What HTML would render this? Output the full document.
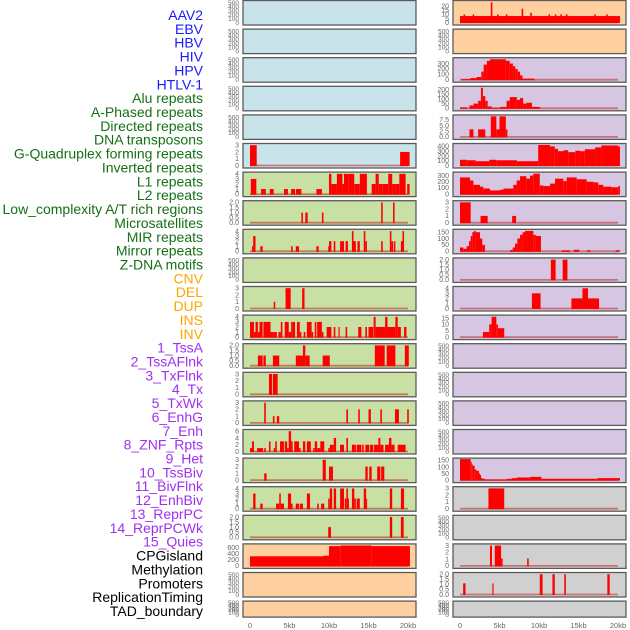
<!DOCTYPE html>
<html><head><meta charset="utf-8">
<style>
html,body{margin:0;padding:0;background:#fff;}
svg{display:block;font-family:"Liberation Sans",sans-serif;}
</style></head>
<body>
<svg id="chart" width="630" height="630" viewBox="0 0 630 630" xmlns="http://www.w3.org/2000/svg"></svg>
<script>
// ---- labels ----
const trackLabels = ["AAV2","EBV","HBV","HIV","HPV","HTLV-1","Alu repeats","A-Phased repeats","Directed repeats","DNA transposons","G-Quadruplex forming repeats","Inverted repeats","L1 repeats","L2 repeats","Low_complexity A/T rich regions","Microsatellites","MIR repeats","Mirror repeats","Z-DNA motifs","CNV","DEL","DUP","INS","INV","1_TssA","2_TssAFlnk","3_TxFlnk","4_Tx","5_TxWk","6_EnhG","7_Enh","8_ZNF_Rpts","9_Het","10_TssBiv","11_BivFlnk","12_EnhBiv","13_ReprPC","14_ReprPCWk","15_Quies","CPGisland","Methylation","Promoters","ReplicationTiming","TAD_boundary"];
const labelGroups = [6,13,5,15,5];
const groupColors = ["#1a1aff","#157015","#ffa500","#a030f0","#000000"];
const xTickKb = [0,5,10,15,20];
const xTickText = ["0","5kb","10kb","15kb","20kb"];

// ---- left column data: [startKb, endKb, value] ----
const L5 = [[0,0.85,3],[19.0,20.2,2]];
const L6 = [[0.1,0.8,3],[1.4,2.0,1],[2.5,3.0,1],[4.3,4.8,1],[5.2,5.7,1],[5.8,6.5,1],[8.4,9.1,1],[10.0,10.3,4],[10.3,11.0,2],[11.0,11.7,4],[11.7,11.9,2],[11.9,12.5,4],[12.5,13.2,4],[13.2,13.9,2],[13.9,14.8,4],[15.4,15.9,2],[15.9,16.3,4],[16.3,16.8,2],[16.8,17.5,2],[17.5,18.0,4],[18.0,18.4,2],[18.4,18.9,2],[18.9,19.7,4],[19.9,20.2,2]];
const L7 = [[6.5,6.7,1],[7.0,7.3,1],[9.1,9.3,1],[16.6,16.8,2],[18.1,18.3,2]];
const L8 = [[0.25,0.4,1],[0.4,0.7,3],[1.3,1.6,1],[5.2,5.4,1],[5.8,6.2,1],[8.4,8.7,1],[9.9,10.0,1],[10.0,10.3,2],[10.6,10.8,2],[11.4,11.9,2],[12.1,12.4,2],[12.9,13.1,4],[13.1,13.4,2],[13.6,13.9,2],[14.4,14.6,4],[14.6,14.8,2],[16.6,16.8,2],[17.7,17.9,4],[17.9,18.1,2],[18.2,18.4,2],[19.1,19.3,2],[19.3,19.5,4]];
const L10 = [[3.0,3.2,1],[4.5,5.15,3],[6.6,6.9,3]];
const L11 = [[0,0.5,3],[0.5,0.7,1],[0.7,1.0,3],[1.0,1.2,1],[1.2,1.6,3],[1.7,2.6,3],[2.6,3.0,1],[3.0,3.4,1],[3.6,3.9,1],[3.9,4.1,3],[4.4,4.9,3],[4.9,5.2,1],[5.2,5.4,3],[5.4,5.7,3],[5.95,6.3,3],[6.3,6.5,1],[6.8,7.0,1],[7.2,7.8,3],[7.8,8.0,1],[8.2,8.4,3],[8.5,9.1,3],[9.1,9.3,1],[9.7,10.3,2],[10.6,10.8,2],[11.2,11.35,2],[12.1,12.3,2],[13.7,14.1,2],[14.6,14.8,2],[15.0,15.6,2],[15.65,15.9,4],[15.9,17.1,2],[17.1,17.4,4],[17.4,18.4,2],[18.4,18.7,4],[18.7,19.1,2],[19.5,19.8,2]];
const L12 = [[1.0,1.6,1],[1.7,2.0,1],[2.9,3.7,1],[5.8,6.2,1],[6.2,6.7,1],[6.7,7.0,2],[7.0,7.55,1],[9.2,10.1,1],[15.8,17.05,2],[17.3,18.4,2],[19.6,20.1,2]];
const L13 = [[2.4,2.8,3],[2.9,3.5,3]];
const L14 = [[1.8,2.0,3],[2.9,3.1,1],[3.4,3.7,1],[12.2,12.4,2],[13.7,13.9,2],[15.0,15.3,2],[16.5,16.7,2],[18.35,18.85,2],[19.9,20.1,2]];
const L15 = [[0,0.25,1],[0.25,0.5,3],[0.9,1.65,1],[1.8,2.0,1],[2.4,2.6,3],[3.0,3.2,1],[3.2,3.4,3],[3.8,4.3,3],[4.4,4.7,3],[4.7,4.9,1],[4.9,5.2,6],[5.2,5.4,3],[5.6,6.2,3],[6.2,6.4,1],[6.7,7.0,3],[7.2,7.7,3],[8.0,8.2,1],[8.2,8.5,3],[8.5,8.9,1],[8.9,9.4,3],[9.9,10.1,1],[10.1,10.6,2],[10.6,10.9,4],[11.4,11.9,2],[12.2,12.4,4],[12.9,13.4,2],[13.5,14.1,2],[14.2,14.4,2],[14.6,15.1,2],[15.2,15.6,2],[15.7,16.25,2],[16.25,16.5,4],[16.5,16.9,2],[17.1,17.6,2],[17.6,17.9,4],[17.9,18.3,2],[18.7,19.7,2]];
const L16 = [[1.8,2.1,1],[9.2,9.6,3],[10.0,10.5,2],[14.6,14.9,2],[15.1,15.4,2],[16.1,16.5,2],[16.6,17.0,2]];
const L17 = [[0.4,0.7,3],[1.3,1.6,1],[3.3,3.7,1],[3.7,3.9,3],[3.9,4.3,1],[4.8,5.2,3],[5.2,5.4,1],[5.8,6.2,1],[6.3,6.7,1],[7.2,7.6,3],[8.5,8.7,1],[9.0,9.4,1],[9.9,10.1,2],[10.1,10.4,4],[10.6,10.9,4],[11.4,11.9,4],[12.0,12.2,2],[12.2,12.4,4],[12.4,12.5,2],[12.9,13.2,4],[13.2,13.4,2],[13.5,13.9,2],[14.4,14.7,4],[14.7,14.8,2],[17.7,18.0,4],[19.1,19.5,4]];
const L18 = [[9.9,10.25,1],[17.7,18.0,2],[19.1,19.45,2]];
const L19 = [[0,9.3,320],[9.3,10.0,340],[10.0,11.5,660],[11.5,15.4,680],[15.4,20.25,660]];

// ---- right column data ----
const R0 = [[0,20.25,8],[0.45,0.65,10],[1.6,1.8,10],[3.9,4.1,25],[4.7,4.9,10],[5.8,6.0,10],[7.8,8.0,17],[8.9,9.1,12],[11.2,11.4,10],[12.0,12.2,10],[12.7,12.9,10],[13.4,13.6,10],[17.0,17.2,10],[18.5,18.7,10]];
const R2 = [[0.2,1.3,10],[1.3,2.1,30],[2.1,2.7,50],[2.7,3.0,150],[3.0,3.4,280],[3.4,3.8,350],[3.8,5.8,380],[5.8,6.3,350],[6.3,6.7,300],[6.7,7.0,250],[7.0,7.3,200],[7.3,7.6,150],[7.6,7.9,80],[7.9,9.4,20]];
const R3 = [[0,0.9,10],[1.2,1.7,30],[1.7,2.3,50],[2.3,2.65,80],[2.65,2.9,220],[2.9,3.2,130],[3.2,3.5,80],[3.5,4.0,20],[4.0,5.1,5],[5.1,5.9,15],[5.9,6.3,80],[6.3,7.2,120],[7.2,7.6,90],[7.6,8.0,110],[8.0,8.4,50],[8.4,9.1,60],[9.1,10.1,15]];
const R4 = [[1.2,1.7,3.3],[2.3,3.2,3.3],[3.9,4.6,9],[4.6,5.0,3.3],[5.0,5.8,9],[5.8,6.0,3.3]];
const R5 = [[0,0.85,120],[0.85,2.0,110],[2.0,3.7,90],[3.7,4.6,120],[4.6,7.2,110],[7.2,9.9,90],[9.9,11.4,430],[11.4,12.0,400],[12.0,12.4,350],[12.4,13.1,300],[13.1,13.7,320],[13.7,14.6,280],[14.6,15.2,310],[15.2,15.8,300],[15.8,17.1,340],[17.1,17.9,380],[17.9,20.0,420],[20.0,20.25,400]];
const R6 = [[0,1.27,270],[1.27,1.69,220],[1.69,2.53,150],[2.53,2.95,120],[2.95,3.8,90],[3.8,5.06,60],[5.06,5.5,70],[5.5,6.75,90],[6.75,7.17,150],[7.17,7.6,220],[7.6,8.4,290],[8.4,8.86,250],[8.86,9.28,300],[9.28,10.1,330],[10.1,10.55,140],[10.55,11.4,130],[11.4,12.03,170],[12.03,13.08,250],[13.08,13.5,210],[13.5,14.77,270],[14.77,16.03,240],[16.03,16.9,200],[16.9,17.5,190],[17.5,18.14,150],[18.14,19.2,120],[19.2,20.04,110],[20.04,20.25,130]];
const R7 = [[0,1.35,3],[2.6,3.5,1],[6.6,7.1,1]];
const R8 = [[0,0.42,30],[0.42,0.84,20],[0.84,1.14,40],[1.14,1.35,80],[1.35,1.56,120],[1.56,1.77,150],[1.77,1.98,160],[1.98,2.53,150],[2.53,2.82,100],[2.82,3.16,50],[6.33,6.67,10],[6.67,6.96,30],[6.96,7.26,60],[7.26,7.6,100],[7.6,7.93,130],[7.93,8.23,150],[8.23,9.28,160],[9.28,9.6,130],[9.6,10.25,120],[12.87,13.9,8],[14.4,15.1,12],[16.1,16.5,8],[19.7,20.25,8]];
const R9 = [[11.5,12.1,2],[13.0,13.6,2]];
const R10 = [[9.1,10.2,3],[14.1,15.5,2],[15.5,16.2,4],[16.2,17.6,2]];
const R11 = [[2.9,3.7,4],[3.7,4.0,10],[4.0,4.6,16],[4.6,4.8,10],[4.8,5.6,7]];
const R16 = [[0,1.35,160],[1.35,1.48,140],[1.48,1.6,120],[1.6,1.86,110],[1.86,2.1,80],[2.1,2.4,70],[2.4,2.53,50],[2.53,2.66,40],[2.66,2.87,15],[2.87,3.16,10],[3.16,5.9,5],[5.9,6.54,10],[6.54,7.2,15],[7.2,8.9,20],[8.9,10.3,25],[10.3,17.4,10],[17.4,20.25,15]];
const R17 = [[3.6,5.6,3]];
const R19 = [[3.8,4.05,3],[4.4,5.2,3],[5.2,5.4,1.1],[8.5,8.7,1.1]];
const R20 = [[0.4,0.7,1.1],[4.1,4.25,1.1],[10.1,10.45,2],[11.7,12.0,2],[13.2,13.4,2],[18.65,18.95,2]];

// ---- axis tick sets ----
const ticksEmpty = [0,100,200,300,400,500];
const ticks3 = [0,1,2,3];
const ticks4 = [0,1,2,3,4];
const ticks2 = [0,0.5,1.0,1.5,2.0];
const ticks6 = [0,2,4,6];

// panel specs: [data, yMax, ticks, bg]
const BLUE="#c8e3ea", GREEN="#c8e0a4", ORANGE="#fed09f", PURPLE="#d6c6e2", GRAY="#d0d0d0";
const leftPanels = [
 [null,530,ticksEmpty,BLUE],[null,530,ticksEmpty,BLUE],[null,530,ticksEmpty,BLUE],[null,530,ticksEmpty,BLUE],[null,530,ticksEmpty,BLUE],
 [L5,3.1,ticks3,BLUE],
 [L6,4.15,ticks4,GREEN],[L7,2.07,ticks2,GREEN],[L8,4.15,ticks4,GREEN],[null,530,ticksEmpty,GREEN],[L10,3.1,ticks3,GREEN],
 [L11,4.15,ticks4,GREEN],[L12,2.07,ticks2,GREEN],[L13,3.1,ticks3,GREEN],[L14,3.1,ticks3,GREEN],[L15,6.2,ticks6,GREEN],
 [L16,3.1,ticks3,GREEN],[L17,4.15,ticks4,GREEN],[L18,2.07,ticks2,GREEN],
 [L19,700,[0,200,400,600],ORANGE],[null,530,ticksEmpty,ORANGE],[null,530,ticksEmpty,ORANGE]
];
const rightPanels = [
 [R0,26,[0,5,10,15,20],ORANGE],[null,530,ticksEmpty,ORANGE],
 [R2,390,[0,100,200,300],PURPLE],[R3,225,[0,50,100,150,200],PURPLE],[R4,9.2,[0,2.5,5.0,7.5],PURPLE],
 [R5,440,[0,100,200,300,400],PURPLE],[R6,340,[0,100,200,300],PURPLE],[R7,3.1,ticks3,PURPLE],
 [R8,165,[0,50,100,150],PURPLE],[R9,2.07,ticks2,PURPLE],[R10,4.15,ticks4,PURPLE],[R11,16.5,[0,5,10,15],PURPLE],
 [null,530,ticksEmpty,PURPLE],[null,530,ticksEmpty,PURPLE],[null,530,ticksEmpty,PURPLE],[null,530,ticksEmpty,PURPLE],
 [R16,160,[0,50,100,150],PURPLE],
 [R17,3.1,ticks3,GRAY],[null,530,ticksEmpty,GRAY],[R19,3.1,ticks3,GRAY],[R20,2.07,ticks2,GRAY],[null,530,ticksEmpty,GRAY]
];

const NS="http://www.w3.org/2000/svg";
const svg=document.getElementById("chart");
function mk(tag,attrs,parent){const e=document.createElementNS(NS,tag);for(const k in attrs)e.setAttribute(k,attrs[k]);(parent||svg).appendChild(e);return e;}

// labels
let li=0;
labelGroups.forEach((n,g)=>{for(let k=0;k<n;k++){
  const t=mk("text",{x:203,y:15+li*13.86+5,"text-anchor":"end","font-size":14,fill:groupColors[g]});
  t.textContent=trackLabels[li];
  
  
  li++;}});

function fmt(v,ticks){const dec=ticks.some(t=>t%1!==0);return dec?(Number.isInteger(v*2)&&ticks.includes(2.5)?v.toFixed(1):v.toFixed(1)):String(v);}

function drawPanel(spec,i,side){
  const [data,yMax,ticks,bg]=spec;
  const px=side==="left"?243:453, pw=173;
  const top=i*28.6+0.5, h=(i===21?16:24.5);
  const x0=px+7, kbScale=7.9;
  const yBase=top+h-2.5, yTop=top+1;
  const xs=kb=>x0+kb*kbScale;
  const ys=v=>yBase-(v/yMax)*(yBase-yTop);
  const g=mk("g",{});
  
  
  const r=mk("rect",{x:px,y:top,width:pw,height:h,fill:bg,stroke:"#5a5a5a","stroke-width":1.3},g);
  
  
  // y ticks
  ticks.forEach(t=>{
    const y=ys(t);
    const tx=mk("text",{x:px-4,y:y+2.3,"text-anchor":"end","font-size":data?7:6.5,fill:"#666"},g);
    tx.textContent=fmt(t,ticks);
    
    
  });
  if(data){
    const bl=mk("line",{x1:xs(0),x2:xs(20),y1:ys(0),y2:ys(0),stroke:"rgba(190,40,40,0.55)","stroke-width":1.8},g);
    
    
    data.forEach(d=>{
      const b=mk("rect",{x:xs(d[0]),y:ys(d[2]),width:Math.max(1,xs(d[1])-xs(d[0])),height:ys(0)-ys(d[2])+0.5,fill:"#ff0000"},g);
      
      
    });
  }
  if(i===21){
    xTickKb.forEach((k,j)=>{
      const tx=mk("text",{x:xs(k),y:628,"text-anchor":"middle","font-size":7.5,fill:"#666"});
      tx.textContent=xTickText[j];
      
      
    });
  }
}
leftPanels.forEach((s,i)=>drawPanel(s,i,"left"));
rightPanels.forEach((s,i)=>drawPanel(s,i,"right"));
</script>
</body></html>
